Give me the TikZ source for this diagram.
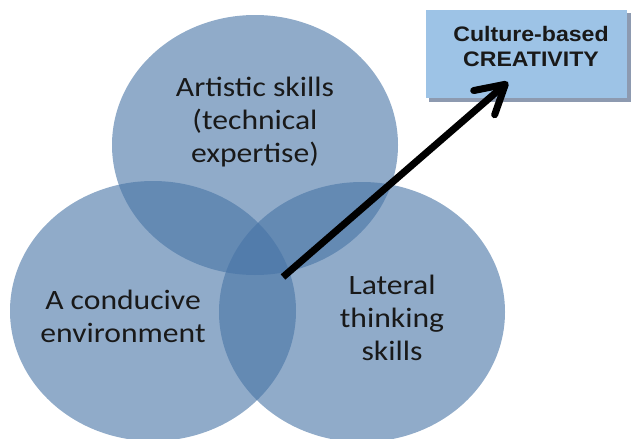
\documentclass[tikz,border=0pt]{standalone}
\usepackage{fontspec}
\setmainfont{Carlito}
\newfontfamily\boxfont{Liberation Sans}
\usetikzlibrary{shapes.geometric,arrows.meta}
\definecolor{vennblue}{RGB}{70,115,165}
\definecolor{boxblue}{RGB}{157,195,230}
\definecolor{boxshadow}{RGB}{141,154,176}
\definecolor{txt}{RGB}{25,25,25}
\tikzset{
  venn/.style={ellipse, fill=vennblue, fill opacity=0.6, draw=none,
    minimum width=286pt, minimum height=260pt, inner sep=0pt},
  venntext/.style={align=center, text=txt, xscale=1.13,
    font=\fontsize{28}{33}\selectfont},
  bigarrow/.style={line width=7pt, black, line cap=butt,
    -{Straight Barb[length=28pt,width=32pt,line cap=round,line join=round]}}
}
\begin{document}
\begin{tikzpicture}[x=1pt,y=-1pt]
\useasboundingbox (0,0) rectangle (632,439);
\node[venn] (top) at (255,145) {};
\node[venn] (left) at (153,311) {};
\node[venn] (right) at (362,312) {};
\node[venntext] (ttop) at (255,122) {Artistic skills\\(technical\\expertise)};
\node[venntext] (tleft) at (123,316) {A conducive\\environment};
\node[venntext] (tright) at (392,318) {Lateral\\thinking\\skills};
\fill[boxshadow] (429,13) rectangle (631,102);
\node[draw=none, fill=boxblue, minimum width=201pt, minimum height=88pt,
  inner sep=0pt] (box) at (526.5,54) {};
\node[align=center, text=txt, xscale=1.1,
  font=\boxfont\bfseries\fontsize{21}{25}\selectfont]
  (boxtext) at (531,46) {Culture-based\\CREATIVITY};
\coordinate (start) at (283,277);
\coordinate (tip) at (508,82);
\draw[bigarrow] (start) -- (tip);
\end{tikzpicture}
\end{document}
